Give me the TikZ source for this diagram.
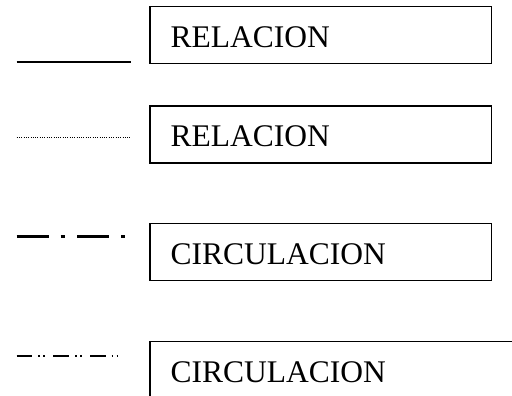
\documentclass[tikz,border=0pt]{standalone}
\usepackage{fontspec}
\setmainfont{Liberation Serif}
\begin{document}
\begin{tikzpicture}[x=1pt,y=1pt,
  legbox/.style={draw=black, line width=1.6pt, anchor=north west,
    minimum width=341.7pt, minimum height=57pt, text width=300pt,
    inner xsep=20.85pt, inner ysep=0pt, align=left,
    text height=25pt, text depth=0pt,
    font=\fontsize{31.5pt}{34pt}\selectfont},
  widebox/.style={legbox, minimum width=400pt, text width=358.3pt},
  solidline/.style={line width=1.7pt},
  dotline/.style={line width=1pt, dash pattern=on 0.9pt off 1.4pt},
  dashdotline/.style={line width=3.5pt, dash pattern=on 32.3pt off 11.7pt on 4pt off 12.3pt},
  dashdotdotline/.style={line width=1.7pt, dash pattern=on 15.6pt off 6pt on 1.7pt off 3.3pt on 1.7pt off 8.4pt}
]
\useasboundingbox (0,0) rectangle (512,396);
\clip (0,0) rectangle (512,396);
% boxes
\node[legbox] (b1) at (149,390.3) {RELACION};
\node[legbox] (b2) at (149,291) {RELACION};
\node[legbox] (b3) at (149,173.3) {CIRCULACION};
\node[widebox] (b4) at (149,55.3) {CIRCULACION};
% legend lines
\coordinate (l1a) at (16.7,334.3); \coordinate (l1b) at (131,334.3);
\coordinate (l2a) at (16.7,258.7); \coordinate (l2b) at (131,258.7);
\coordinate (l3a) at (16.7,159.3); \coordinate (l3b) at (125,159.3);
\coordinate (l4a) at (16.7,40.3);  \coordinate (l4b) at (124,40.3);
\draw[solidline] (l1a) -- (l1b);
\draw[dotline] (l2a) -- (l2b);
\draw[dashdotline] (l3a) -- (l3b);
\draw[dashdotdotline] (l4a) -- (l4b);
\end{tikzpicture}
\end{document}
